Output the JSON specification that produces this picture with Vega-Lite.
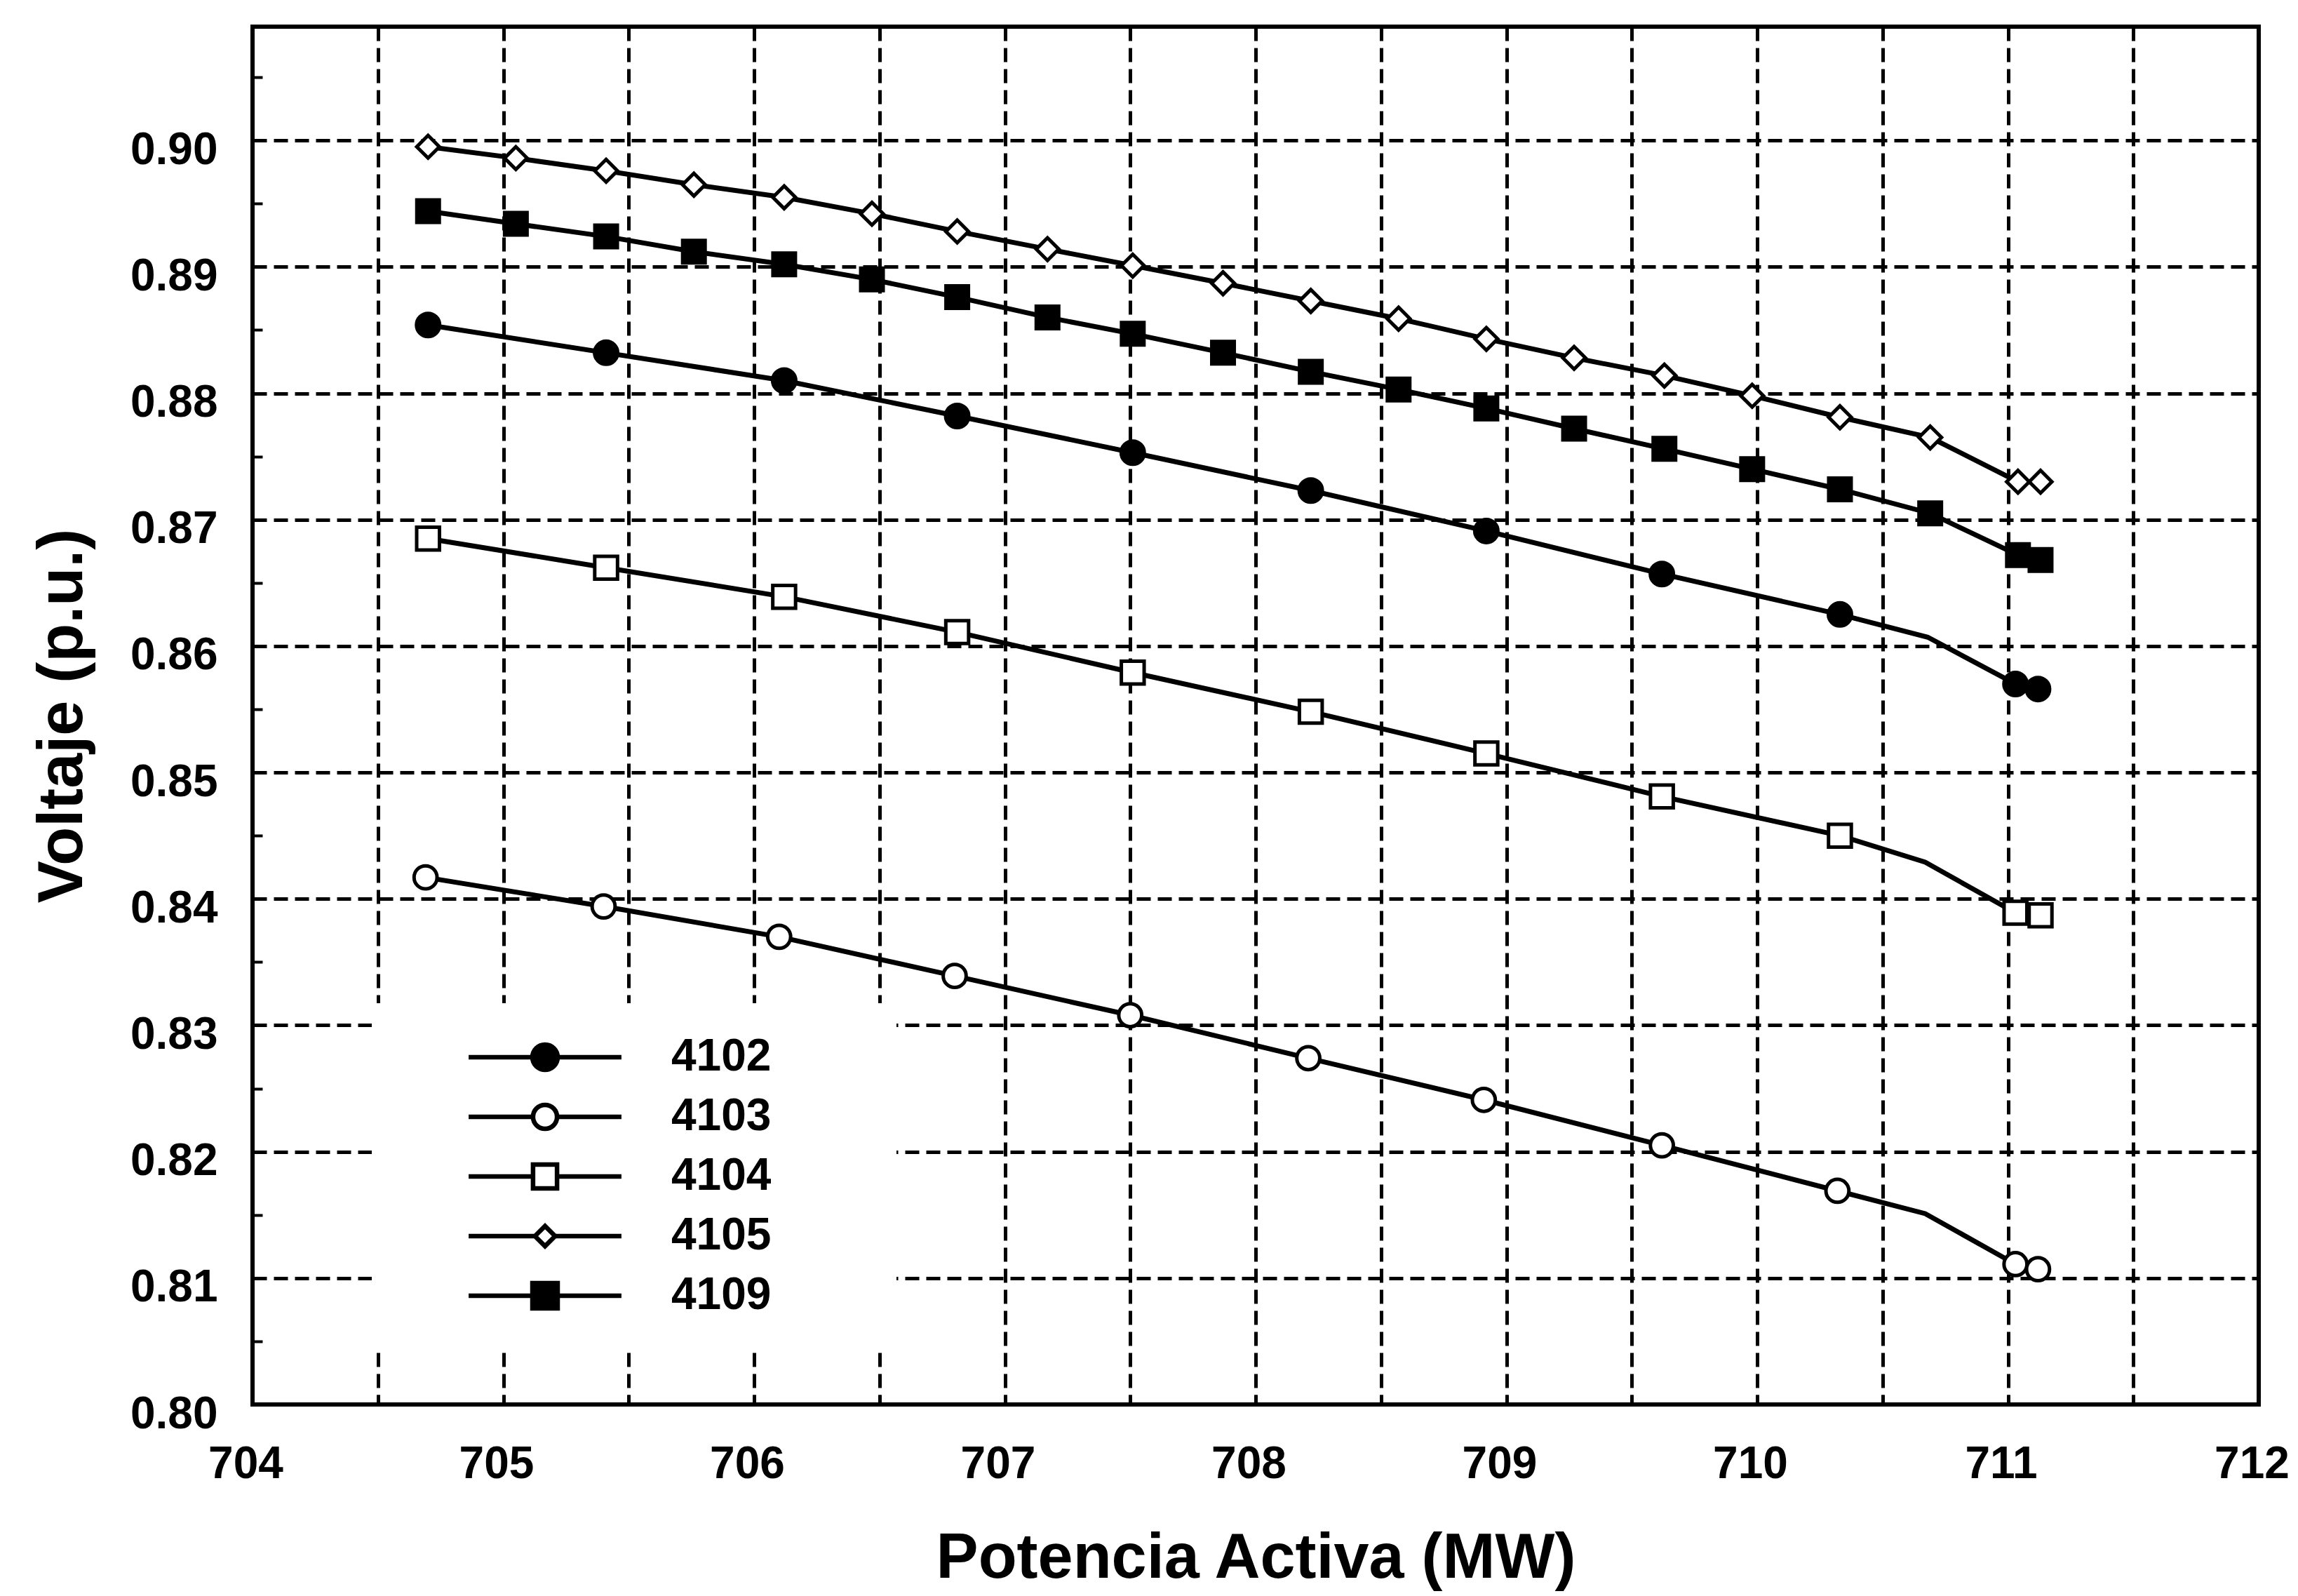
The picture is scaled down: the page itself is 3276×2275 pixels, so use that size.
{
  "$schema": "https://vega.github.io/schema/vega-lite/v6.json",
  "width": 2860,
  "height": 1964,
  "autosize": {"type": "none"},
  "padding": {"left": 360, "top": 38, "right": 56, "bottom": 273},
  "background": "white",
  "config": {
    "view": {"stroke": "black", "strokeWidth": 6},
    "font": "Liberation Sans",
    "axis": {
      "grid": true, "gridDash": [20, 10], "gridColor": "black", "gridWidth": 5,
      "domain": false,
      "ticks": true, "tickSize": -14, "tickColor": "black", "tickWidth": 4,
      "labelFont": "Liberation Sans", "labelFontSize": 64, "labelFontWeight": "bold",
      "labelColor": "black", "labelFlush": false, "labelOverlap": false,
      "titleFont": "Liberation Sans", "titleFontSize": 90, "titleFontWeight": "bold", "titleColor": "black"
    }
  },
  "datasets": {
    "curvas": [
      {"serie": "4105", "p": 704.70, "v": 0.8995},
      {"serie": "4105", "p": 705.05, "v": 0.8986},
      {"serie": "4105", "p": 705.41, "v": 0.8976},
      {"serie": "4105", "p": 705.76, "v": 0.8965},
      {"serie": "4105", "p": 706.12, "v": 0.8955},
      {"serie": "4105", "p": 706.47, "v": 0.8942},
      {"serie": "4105", "p": 706.81, "v": 0.8928},
      {"serie": "4105", "p": 707.17, "v": 0.8914},
      {"serie": "4105", "p": 707.51, "v": 0.8901},
      {"serie": "4105", "p": 707.87, "v": 0.8887},
      {"serie": "4105", "p": 708.22, "v": 0.8873},
      {"serie": "4105", "p": 708.57, "v": 0.8859},
      {"serie": "4105", "p": 708.92, "v": 0.8843},
      {"serie": "4105", "p": 709.27, "v": 0.8828},
      {"serie": "4105", "p": 709.63, "v": 0.8814},
      {"serie": "4105", "p": 709.98, "v": 0.8798},
      {"serie": "4105", "p": 710.33, "v": 0.8781},
      {"serie": "4105", "p": 710.69, "v": 0.8765},
      {"serie": "4105", "p": 711.04, "v": 0.8730},
      {"serie": "4105", "p": 711.13, "v": 0.8730},
      {"serie": "4109", "p": 704.70, "v": 0.8944},
      {"serie": "4109", "p": 705.05, "v": 0.8934},
      {"serie": "4109", "p": 705.41, "v": 0.8924},
      {"serie": "4109", "p": 705.76, "v": 0.8912},
      {"serie": "4109", "p": 706.12, "v": 0.8902},
      {"serie": "4109", "p": 706.47, "v": 0.8890},
      {"serie": "4109", "p": 706.81, "v": 0.8876},
      {"serie": "4109", "p": 707.17, "v": 0.8860},
      {"serie": "4109", "p": 707.51, "v": 0.8847},
      {"serie": "4109", "p": 707.87, "v": 0.8832},
      {"serie": "4109", "p": 708.22, "v": 0.8817},
      {"serie": "4109", "p": 708.57, "v": 0.8803},
      {"serie": "4109", "p": 708.92, "v": 0.8788},
      {"serie": "4109", "p": 709.27, "v": 0.8772},
      {"serie": "4109", "p": 709.63, "v": 0.8756},
      {"serie": "4109", "p": 709.98, "v": 0.8740},
      {"serie": "4109", "p": 710.33, "v": 0.8724},
      {"serie": "4109", "p": 710.69, "v": 0.8705},
      {"serie": "4109", "p": 711.04, "v": 0.8672},
      {"serie": "4109", "p": 711.13, "v": 0.8668},
      {"serie": "4102", "p": 704.70, "v": 0.8854},
      {"serie": "4102", "p": 705.41, "v": 0.8832},
      {"serie": "4102", "p": 706.12, "v": 0.8810},
      {"serie": "4102", "p": 706.81, "v": 0.8782},
      {"serie": "4102", "p": 707.51, "v": 0.8753},
      {"serie": "4102", "p": 708.22, "v": 0.8723},
      {"serie": "4102", "p": 708.92, "v": 0.8691},
      {"serie": "4102", "p": 709.62, "v": 0.8657},
      {"serie": "4102", "p": 710.33, "v": 0.8625},
      {"serie": "4102", "p": 710.68, "v": 0.8607},
      {"serie": "4102", "p": 711.03, "v": 0.8570},
      {"serie": "4102", "p": 711.12, "v": 0.8566},
      {"serie": "4104", "p": 704.70, "v": 0.8685},
      {"serie": "4104", "p": 705.41, "v": 0.8662},
      {"serie": "4104", "p": 706.12, "v": 0.8639},
      {"serie": "4104", "p": 706.81, "v": 0.8611},
      {"serie": "4104", "p": 707.51, "v": 0.8579},
      {"serie": "4104", "p": 708.22, "v": 0.8548},
      {"serie": "4104", "p": 708.92, "v": 0.8515},
      {"serie": "4104", "p": 709.62, "v": 0.8481},
      {"serie": "4104", "p": 710.33, "v": 0.8450},
      {"serie": "4104", "p": 710.67, "v": 0.8429},
      {"serie": "4104", "p": 711.03, "v": 0.8389},
      {"serie": "4104", "p": 711.13, "v": 0.8387},
      {"serie": "4103", "p": 704.69, "v": 0.8417},
      {"serie": "4103", "p": 705.40, "v": 0.8394},
      {"serie": "4103", "p": 706.10, "v": 0.8370},
      {"serie": "4103", "p": 706.80, "v": 0.8339},
      {"serie": "4103", "p": 707.50, "v": 0.8308},
      {"serie": "4103", "p": 708.21, "v": 0.8274},
      {"serie": "4103", "p": 708.91, "v": 0.8241},
      {"serie": "4103", "p": 709.62, "v": 0.8205},
      {"serie": "4103", "p": 710.32, "v": 0.8169},
      {"serie": "4103", "p": 710.67, "v": 0.8151},
      {"serie": "4103", "p": 711.03, "v": 0.8111},
      {"serie": "4103", "p": 711.12, "v": 0.8107}
    ],
    "marcadores": [
      {"serie": "4105", "p": 704.70, "v": 0.8995},
      {"serie": "4105", "p": 705.05, "v": 0.8986},
      {"serie": "4105", "p": 705.41, "v": 0.8976},
      {"serie": "4105", "p": 705.76, "v": 0.8965},
      {"serie": "4105", "p": 706.12, "v": 0.8955},
      {"serie": "4105", "p": 706.47, "v": 0.8942},
      {"serie": "4105", "p": 706.81, "v": 0.8928},
      {"serie": "4105", "p": 707.17, "v": 0.8914},
      {"serie": "4105", "p": 707.51, "v": 0.8901},
      {"serie": "4105", "p": 707.87, "v": 0.8887},
      {"serie": "4105", "p": 708.22, "v": 0.8873},
      {"serie": "4105", "p": 708.57, "v": 0.8859},
      {"serie": "4105", "p": 708.92, "v": 0.8843},
      {"serie": "4105", "p": 709.27, "v": 0.8828},
      {"serie": "4105", "p": 709.63, "v": 0.8814},
      {"serie": "4105", "p": 709.98, "v": 0.8798},
      {"serie": "4105", "p": 710.33, "v": 0.8781},
      {"serie": "4105", "p": 710.69, "v": 0.8765},
      {"serie": "4105", "p": 711.04, "v": 0.8730},
      {"serie": "4105", "p": 711.13, "v": 0.8730},
      {"serie": "4109", "p": 704.70, "v": 0.8944},
      {"serie": "4109", "p": 705.05, "v": 0.8934},
      {"serie": "4109", "p": 705.41, "v": 0.8924},
      {"serie": "4109", "p": 705.76, "v": 0.8912},
      {"serie": "4109", "p": 706.12, "v": 0.8902},
      {"serie": "4109", "p": 706.47, "v": 0.8890},
      {"serie": "4109", "p": 706.81, "v": 0.8876},
      {"serie": "4109", "p": 707.17, "v": 0.8860},
      {"serie": "4109", "p": 707.51, "v": 0.8847},
      {"serie": "4109", "p": 707.87, "v": 0.8832},
      {"serie": "4109", "p": 708.22, "v": 0.8817},
      {"serie": "4109", "p": 708.57, "v": 0.8803},
      {"serie": "4109", "p": 708.92, "v": 0.8788},
      {"serie": "4109", "p": 709.27, "v": 0.8772},
      {"serie": "4109", "p": 709.63, "v": 0.8756},
      {"serie": "4109", "p": 709.98, "v": 0.8740},
      {"serie": "4109", "p": 710.33, "v": 0.8724},
      {"serie": "4109", "p": 710.69, "v": 0.8705},
      {"serie": "4109", "p": 711.04, "v": 0.8672},
      {"serie": "4109", "p": 711.13, "v": 0.8668},
      {"serie": "4102", "p": 704.70, "v": 0.8854},
      {"serie": "4102", "p": 705.41, "v": 0.8832},
      {"serie": "4102", "p": 706.12, "v": 0.8810},
      {"serie": "4102", "p": 706.81, "v": 0.8782},
      {"serie": "4102", "p": 707.51, "v": 0.8753},
      {"serie": "4102", "p": 708.22, "v": 0.8723},
      {"serie": "4102", "p": 708.92, "v": 0.8691},
      {"serie": "4102", "p": 709.62, "v": 0.8657},
      {"serie": "4102", "p": 710.33, "v": 0.8625},
      {"serie": "4102", "p": 711.03, "v": 0.8570},
      {"serie": "4102", "p": 711.12, "v": 0.8566},
      {"serie": "4104", "p": 704.70, "v": 0.8685},
      {"serie": "4104", "p": 705.41, "v": 0.8662},
      {"serie": "4104", "p": 706.12, "v": 0.8639},
      {"serie": "4104", "p": 706.81, "v": 0.8611},
      {"serie": "4104", "p": 707.51, "v": 0.8579},
      {"serie": "4104", "p": 708.22, "v": 0.8548},
      {"serie": "4104", "p": 708.92, "v": 0.8515},
      {"serie": "4104", "p": 709.62, "v": 0.8481},
      {"serie": "4104", "p": 710.33, "v": 0.8450},
      {"serie": "4104", "p": 711.03, "v": 0.8389},
      {"serie": "4104", "p": 711.13, "v": 0.8387},
      {"serie": "4103", "p": 704.69, "v": 0.8417},
      {"serie": "4103", "p": 705.40, "v": 0.8394},
      {"serie": "4103", "p": 706.10, "v": 0.8370},
      {"serie": "4103", "p": 706.80, "v": 0.8339},
      {"serie": "4103", "p": 707.50, "v": 0.8308},
      {"serie": "4103", "p": 708.21, "v": 0.8274},
      {"serie": "4103", "p": 708.91, "v": 0.8241},
      {"serie": "4103", "p": 709.62, "v": 0.8205},
      {"serie": "4103", "p": 710.32, "v": 0.8169},
      {"serie": "4103", "p": 711.03, "v": 0.8111},
      {"serie": "4103", "p": 711.12, "v": 0.8107}
    ]
  },
  "encoding": {
    "x": {
      "field": "p", "type": "quantitative",
      "scale": {"domain": [704, 712], "nice": false, "zero": false},
      "axis": {
        "title": "Potencia Activa (MW)",
        "values": [704, 704.5, 705, 705.5, 706, 706.5, 707, 707.5, 708, 708.5, 709, 709.5, 710, 710.5, 711, 711.5, 712],
        "labelExpr": "datum.value % 1 === 0 ? format(datum.value, 'd') : ''",
        "labelPadding": 67, "labelOffset": -10, "titlePadding": 58
      }
    },
    "y": {
      "field": "v", "type": "quantitative",
      "scale": {"domain": [0.8, 0.909], "nice": false, "zero": false},
      "axis": {
        "title": "Voltaje (p.u.)",
        "values": [0.8, 0.805, 0.81, 0.815, 0.82, 0.825, 0.83, 0.835, 0.84, 0.845, 0.85, 0.855, 0.86, 0.865, 0.87, 0.875, 0.88, 0.885, 0.89, 0.895, 0.9, 0.905],
        "labelExpr": "round(datum.value*200) % 2 == 0 ? format(datum.value, '.2f') : ''",
        "gridOpacity": {"condition": {"test": "round(datum.value*200) % 2 == 0", "value": 1}, "value": 0},
        "labelPadding": 64, "labelOffset": 14, "titlePadding": 50
      }
    }
  },
  "layer": [
    {
      "data": {"name": "curvas"},
      "mark": {"type": "line", "color": "black", "strokeWidth": 7},
      "encoding": {
        "detail": {"field": "serie", "type": "nominal"}
      }
    },
    {
      "data": {"name": "marcadores"},
      "mark": {"type": "point", "filled": true, "stroke": "black", "strokeWidth": 5, "opacity": 1},
      "encoding": {
        "shape": {
          "field": "serie", "type": "nominal",
          "scale": {"domain": ["4102", "4103", "4104", "4105", "4109"], "range": ["circle", "circle", "square", "diamond", "square"]},
          "legend": null
        },
        "fill": {
          "field": "serie", "type": "nominal",
          "scale": {"domain": ["4102", "4103", "4104", "4105", "4109"], "range": ["black", "white", "white", "white", "black"]},
          "legend": null
        },
        "size": {
          "field": "serie", "type": "nominal",
          "scale": {"domain": ["4102", "4103", "4104", "4105", "4109"], "range": [1089, 1024, 1156, 600, 1156]},
          "legend": null
        }
      }
    },
    {
      "data": {"values": []},
      "mark": {"type": "point", "filled": true, "stroke": "black", "strokeWidth": 6, "opacity": 1},
      "encoding": {
        "shape": {
          "field": "serie", "type": "nominal",
          "scale": {
            "domain": ["4102", "4103", "4104", "4105", "4109"],
            "range": [
              "M-6.05,0H-1M1,0H6.05M1,0A1,1,0,1,1,-1,0A1,1,0,1,1,1,0ZM24.6,0",
              "M-6.05,0H-0.95M0.95,0H6.05M0.95,0A0.95,0.95,0,1,1,-0.95,0A0.95,0.95,0,1,1,0.95,0ZM24.6,0",
              "M-6.05,0H-0.95M0.95,0H6.05M-0.95,-0.95H0.95V0.95H-0.95ZM24.6,0",
              "M-6.05,0H-0.8M0.8,0H6.05M-0.8,0L0,-0.8L0.8,0L0,0.8ZM24.6,0",
              "M-6.05,0H-1M1,0H6.05M-1,-1H1V1H-1ZM24.6,0"
            ]
          },
          "legend": {
            "title": null, "orient": "none", "legendX": 170, "legendY": 1392,
            "fillColor": "white", "padding": 45,
            "symbolSize": 1296, "symbolStrokeWidth": 6, "symbolStrokeColor": "black",
            "symbolOffset": 170, "labelOffset": 148, "rowPadding": 21,
            "labelFont": "Liberation Sans", "labelFontSize": 64, "labelFontWeight": "bold", "labelColor": "black", "labelLimit": 400,
            "encoding": {"symbols": {"stroke": {"value": "black"}, "strokeWidth": {"value": 6.5}, "strokeOpacity": {"value": 1}}}
          }
        },
        "fill": {
          "field": "serie", "type": "nominal",
          "scale": {"domain": ["4102", "4103", "4104", "4105", "4109"], "range": ["black", "white", "white", "white", "black"]},
          "legend": {
            "title": null, "orient": "none", "legendX": 170, "legendY": 1392,
            "fillColor": "white", "padding": 45,
            "symbolSize": 1296, "symbolStrokeWidth": 6, "symbolStrokeColor": "black",
            "symbolOffset": 170, "labelOffset": 148, "rowPadding": 21,
            "labelFont": "Liberation Sans", "labelFontSize": 64, "labelFontWeight": "bold", "labelColor": "black", "labelLimit": 400,
            "encoding": {"symbols": {"stroke": {"value": "black"}, "strokeWidth": {"value": 6.5}, "strokeOpacity": {"value": 1}}}
          }
        }
      }
    }
  ],
  "resolve": {"scale": {"shape": "independent", "fill": "independent", "size": "independent"}}
}
